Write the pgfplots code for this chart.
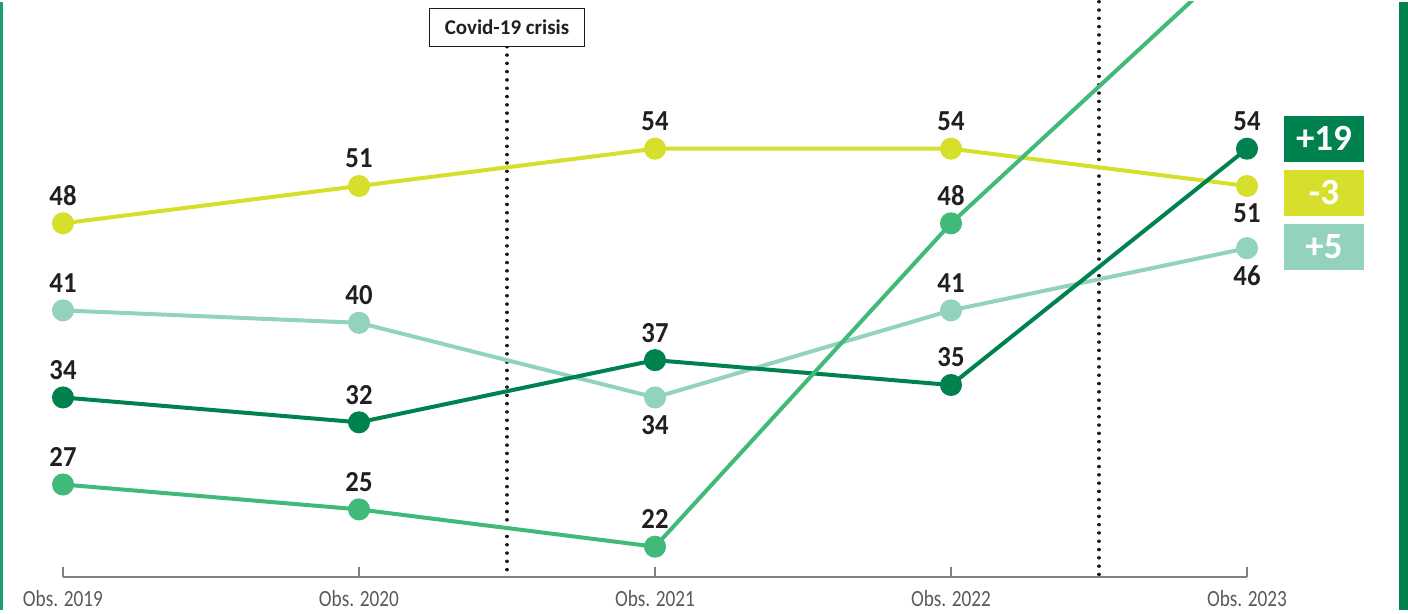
\documentclass[border=0pt]{standalone}
\usepackage{fontspec}
\setmainfont{Carlito}
\newfontfamily\tickfont[FakeStretch=0.83]{Carlito}
\newfontfamily\numfont[FakeStretch=0.92]{Carlito}
\usepackage{pgfplots}
\pgfplotsset{compat=1.18}
\definecolor{limeg}{HTML}{D5DF2C}
\definecolor{tealg}{HTML}{93D2BC}
\definecolor{darkg}{HTML}{00824F}
\definecolor{medg}{HTML}{40B979}
\definecolor{borderl}{HTML}{1E9D77}
\definecolor{labeltext}{HTML}{231F20}
\definecolor{tickgray}{HTML}{5A5A5A}
\definecolor{axisgray}{HTML}{808080}
\definecolor{dotgray}{HTML}{1A1A1A}
\begin{document}
\begin{tikzpicture}
\begin{axis}[
  scale only axis, width=704pt, height=287.75pt,
  xmin=-0.21284, xmax=4.54392, ymin=19.548, ymax=65.819,
  axis x line=bottom, axis y line=none,
  x axis line style={draw=none},
  xtick={0,1,2,3,4},
  xticklabels={Obs. 2019,Obs. 2020,Obs. 2021,Obs. 2022,Obs. 2023},
  tick align=inside, major tick length=5pt,
  xtick style={draw=axisgray, line width=0.85pt},
  xticklabel style={font=\tickfont\fontsize{11.6}{12}\selectfont, text=tickgray, anchor=center, yshift=-10.75pt},
  clip mode=individual,
  /pgf/number format/assume math mode=true,
  every node near coord/.append style={font=\numfont\bfseries\fontsize{14.5}{15}\selectfont, text=labeltext, anchor=center, inner sep=0pt},
]
% borders
\fill[borderl] (axis cs:-0.21284,16.935) rectangle (axis cs:-0.2027,65.819);
\fill[darkg] (axis cs:4.51351,16.935) rectangle (axis cs:4.54392,65.819);
% dotted reference lines
\draw[dotgray, line width=1.7pt, line cap=round, dash pattern=on 0.05pt off 4.1pt] (axis cs:1.5,62.2) -- (axis cs:1.5,19.6);
\draw[dotgray, line width=1.7pt, line cap=round, dash pattern=on 0.05pt off 4.1pt] (axis cs:3.5,65.819) -- (axis cs:3.5,19.6);
% axis line
\draw[axisgray, line width=0.85pt] (axis cs:0,19.548) -- (axis cs:4,19.548);
% series
\addplot[limeg, line width=2pt, mark=*, mark size=4.5pt, mark options={fill=limeg, draw=none}] coordinates {(0,48)(1,51)(2,54)(3,54)(4,51)};
\addplot[tealg, line width=2pt, mark=*, mark size=4.5pt, mark options={fill=tealg, draw=none}] coordinates {(0,41)(1,40)(2,34)(3,41)(4,46)};
\addplot[darkg, line width=2pt, mark=*, mark size=4.5pt, mark options={fill=darkg, draw=none}] coordinates {(0,34)(1,32)(2,37)(3,35)(4,54)};
\addplot[medg, line width=2pt, mark=*, mark size=4.5pt, mark options={fill=medg, draw=none}] coordinates {(0,27)(1,25)(2,22)(3,48)(4,70)};
% value labels above
\addplot[draw=none, mark=none, nodes near coords, point meta=y, every node near coord/.append style={yshift=13.75pt}] coordinates {(0,48)(1,51)(2,54)(3,54)};
\addplot[draw=none, mark=none, nodes near coords, point meta=y, every node near coord/.append style={yshift=13.75pt}] coordinates {(0,41)(1,40)(3,41)};
\addplot[draw=none, mark=none, nodes near coords, point meta=y, every node near coord/.append style={yshift=13.75pt}] coordinates {(0,34)(1,32)(2,37)(3,35)(4,54)};
\addplot[draw=none, mark=none, nodes near coords, point meta=y, every node near coord/.append style={yshift=13.75pt}] coordinates {(0,27)(1,25)(2,22)(3,48)};
% value labels below
\addplot[draw=none, mark=none, nodes near coords, point meta=y, every node near coord/.append style={yshift=-13.75pt}] coordinates {(4,51)(2,34)(4,46)};
% covid box
\node[draw=dotgray, line width=0.75pt, fill=white, minimum width=77.5pt, minimum height=19pt, inner sep=0pt, text=labeltext, font=\bfseries\fontsize{10.5}{12}\selectfont] at (axis cs:1.5,63.729) {Covid-19 crisis};
% badges
\node[fill=darkg, text=white, minimum width=40pt, minimum height=23pt, inner sep=0pt, font=\bfseries\fontsize{18.5}{19}\selectfont] at (axis cs:4.2601,54.804) {+19};
\node[fill=limeg, text=white, minimum width=40pt, minimum height=23pt, inner sep=0pt, font=\bfseries\fontsize{18.5}{19}\selectfont] at (axis cs:4.2601,50.462) {-3};
\node[fill=tealg, text=white, minimum width=40pt, minimum height=23pt, inner sep=0pt, font=\bfseries\fontsize{18.5}{19}\selectfont] at (axis cs:4.2601,46.121) {+5};
\end{axis}
\end{tikzpicture}
\end{document}
